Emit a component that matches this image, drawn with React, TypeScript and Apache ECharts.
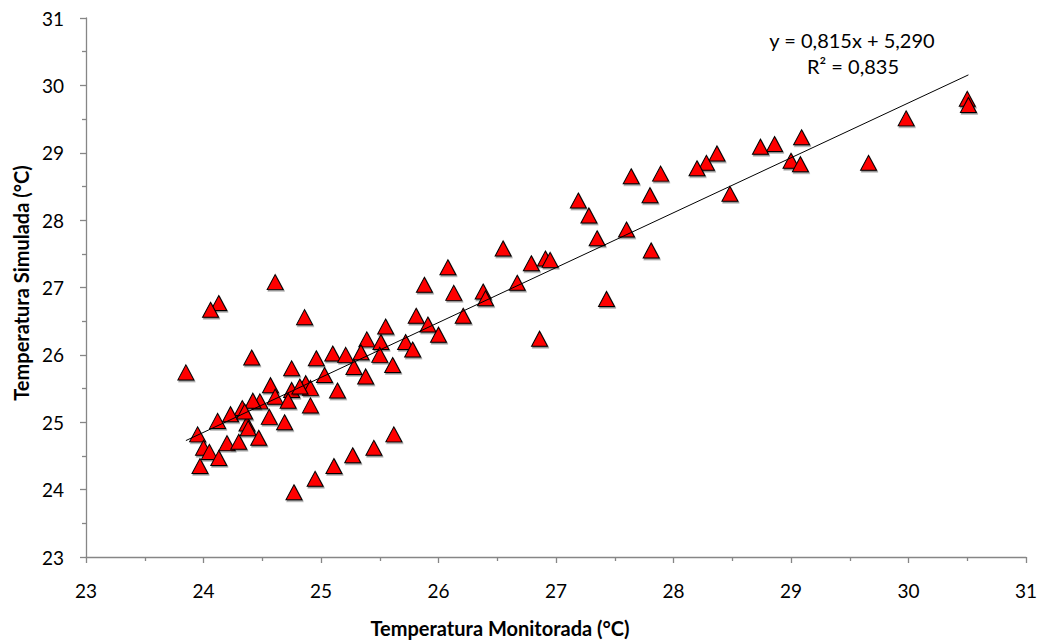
import { useEffect, useRef } from "react";
import * as echarts from "echarts";

// Temperatura Monitorada (°C) — x values
const measured = [
  30.5, 30.51, 29.98, 29.09, 28.86, 28.74, 28.37, 28.28, 28.2, 29.0,
  29.08, 29.66, 28.48, 27.64, 27.89, 27.8, 27.19, 27.28, 27.35, 27.6,
  27.81, 26.55, 26.79, 26.91, 26.95, 26.08, 25.88, 26.13, 26.38, 26.4,
  26.67, 27.43, 26.86, 26.21, 25.81, 25.91, 26.0, 25.55, 25.72, 25.78,
  25.61, 25.62, 24.61, 24.13, 24.06, 24.86, 25.39, 25.51, 24.41, 24.96,
  25.1, 25.21, 25.34, 25.5, 25.28, 25.03, 25.38, 24.87, 24.91, 25.14,
  24.91, 23.85, 24.77, 24.95, 25.11, 25.27, 25.45, 24.75, 24.57, 24.75,
  24.61, 24.72, 24.48, 24.42, 24.33, 24.23, 24.12, 24.56, 24.69, 24.37,
  24.38, 23.95, 24.2, 24.3, 24.47, 24.0, 24.05, 24.13, 23.97, 24.82,
  24.35,
];

// Temperatura Simulada (°C) — y values
const simulated = [
  29.8, 29.71, 29.51, 29.23, 29.13, 29.09, 28.99, 28.85, 28.77, 28.88,
  28.83, 28.85, 28.39, 28.65, 28.69, 28.37, 28.29, 28.07, 27.73, 27.86,
  27.55, 27.58, 27.36, 27.43, 27.41, 27.3, 27.04, 26.92, 26.94, 26.84,
  27.07, 26.83, 26.24, 26.58, 26.58, 26.45, 26.3, 26.42, 26.19, 26.08,
  25.85, 24.82, 27.08, 26.77, 26.67, 26.56, 26.23, 26.19, 25.96, 25.95,
  26.02, 26.0, 26.04, 26.0, 25.82, 25.7, 25.68, 25.58, 25.51, 25.47,
  25.25, 25.74, 23.96, 24.16, 24.35, 24.51, 24.62, 25.8, 25.55, 25.48,
  25.38, 25.32, 25.31, 25.32, 25.21, 25.12, 25.02, 25.08, 25.0, 24.98,
  24.91, 24.82, 24.69, 24.71, 24.77, 24.62, 24.56, 24.47, 24.35, 25.53,
  25.16,
];

const slope = 0.815;
const intercept = 5.29;
const equationText = "y = 0,815x + 5,290";
const r2Text = "R² = 0,835";
const xTitle = "Temperatura Monitorada (°C)";
const yTitle = "Temperatura Simulada (°C)";
const axisMin = 23;
const axisMax = 31;

export default function App() {
  const ref = useRef<HTMLDivElement>(null);

  useEffect(() => {
    if (!ref.current) return;
    const chart = echarts.init(ref.current, null, { renderer: "svg" });
    const points = measured.map((x, i) => [x, simulated[i]]);
    const xmin = Math.min(...measured);
    const xmax = Math.max(...measured);
    const trend = [
      [xmin, slope * xmin + intercept],
      [xmax, slope * xmax + intercept],
    ];
    const axisColor = "#868686";
    const makeAxis = (margin: number) => ({
      type: "value",
      min: axisMin,
      max: axisMax,
      interval: 1,
      axisLine: { show: true, onZero: false, lineStyle: { color: axisColor, width: 1.3 } },
      axisTick: { show: true, length: 6, lineStyle: { color: axisColor, width: 1.3 } },
      minorTick: { show: true, splitNumber: 2, length: 4, lineStyle: { color: axisColor, width: 1.3 } },
      splitLine: { show: false },
      minorSplitLine: { show: false },
      axisLabel: {
        color: "#000",
        fontSize: 19,
        fontFamily: "Lato",
        margin,
        showMinLabel: true,
        showMaxLabel: true,
      },
    });

    chart.setOption({
      animation: false,
      backgroundColor: "#ffffff",
      textStyle: { fontFamily: "Lato" },
      grid: {
        left: 86,
        right: 11,
        top: 18,
        bottom: 85,
        containLabel: false,
        outerBoundsMode: "none",
      },
      xAxis: makeAxis(24),
      yAxis: makeAxis(22),
      series: [
        {
          type: "scatter",
          data: points,
          symbol: "triangle",
          symbolSize: [16, 15],
          z: 2,
          itemStyle: {
            color: "#ff0000",
            borderColor: "#000000",
            borderWidth: 1,
            opacity: 1,
            shadowColor: "rgba(0,0,0,0.45)",
            shadowBlur: 1,
            shadowOffsetX: 1,
            shadowOffsetY: 1.5,
          },
        },
        {
          type: "line",
          data: trend,
          showSymbol: false,
          symbol: "none",
          z: 3,
          lineStyle: { color: "#000000", width: 1 },
          silent: true,
        },
      ],
      graphic: [
        {
          type: "text",
          x: 500,
          y: 628,
          style: {
            text: xTitle,
            font: "bold 20px Lato",
            fill: "#000",
            align: "center",
            verticalAlign: "middle",
          },
        },
        {
          type: "text",
          x: 21,
          y: 283,
          rotation: Math.PI / 2,
          style: {
            text: yTitle,
            font: "bold 20px Lato",
            fill: "#000",
            align: "center",
            verticalAlign: "middle",
          },
        },
        {
          type: "text",
          x: 852,
          y: 40,
          style: {
            text: equationText,
            font: "20px Lato",
            fill: "#000",
            align: "center",
            verticalAlign: "middle",
          },
        },
        {
          type: "text",
          x: 853,
          y: 66,
          style: {
            text: r2Text,
            font: "20px Lato",
            fill: "#000",
            align: "center",
            verticalAlign: "middle",
          },
        },
      ],
    });

    return () => {
      chart.dispose();
    };
  }, []);

  return (
    <div
      ref={ref}
      style={{ position: "absolute", left: 0, top: 0, width: 1037, height: 642 }}
    />
  );
}
